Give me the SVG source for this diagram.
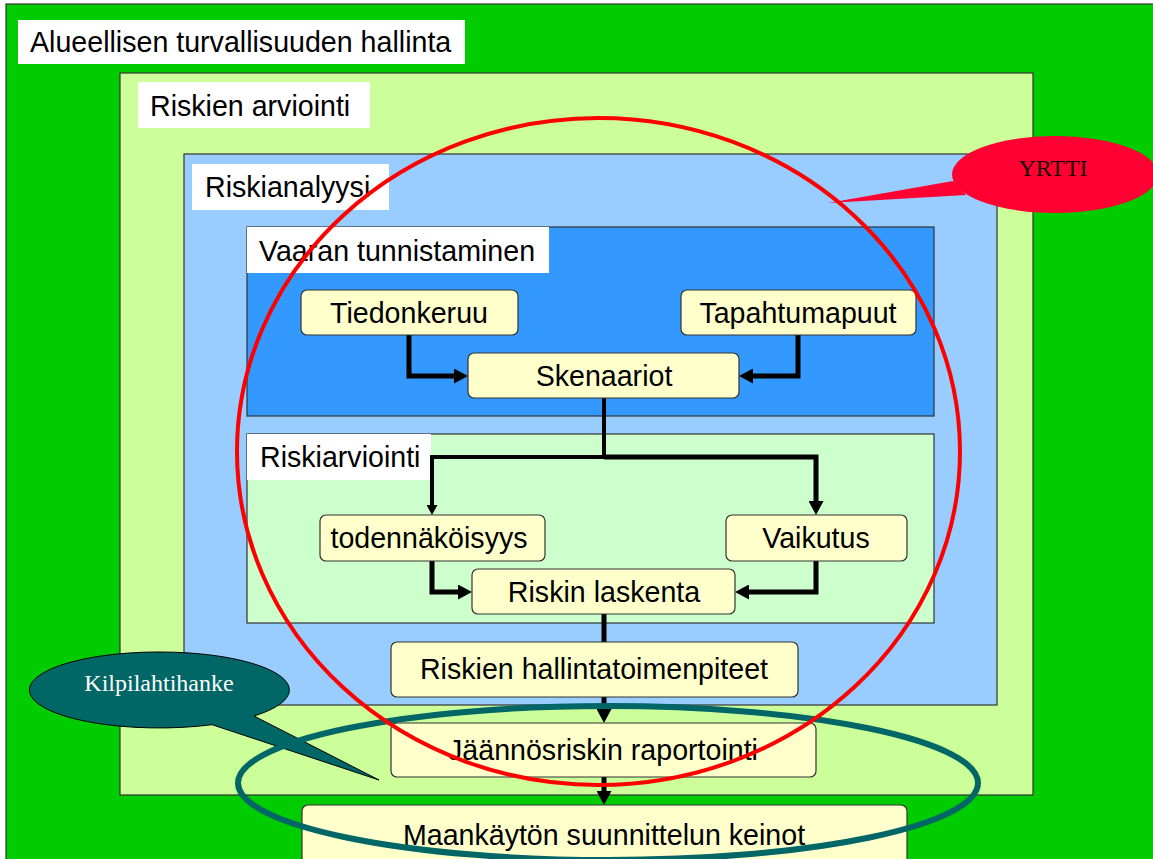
<svg xmlns="http://www.w3.org/2000/svg" width="1153" height="859" viewBox="0 0 1153 859">
<defs>
<style>
.frame{stroke:#333333;stroke-width:1.2}
.lbl{fill:#ffffff}
.t{font-family:"Liberation Sans",Arial,sans-serif;font-size:28.6px;fill:#000000}
.c{text-anchor:middle}
.box{fill:#ffffcc;stroke:#333333;stroke-width:1.2}
.con{fill:none;stroke:#000000;stroke-width:5;stroke-linejoin:miter}
.serif{font-family:"Liberation Serif","Times New Roman",serif;font-size:24px;text-anchor:middle}
</style>
<marker id="arr" markerUnits="userSpaceOnUse" markerWidth="14" markerHeight="15" refX="4" refY="7.5" orient="auto" viewBox="0 0 14 15">
<path d="M0,0 L14,7.5 L0,15 Z" fill="#000000"/>
</marker>
<marker id="arrs" markerUnits="userSpaceOnUse" markerWidth="10" markerHeight="11" refX="3" refY="5.5" orient="auto" viewBox="0 0 10 11">
<path d="M0,0 L10,5.5 L0,11 Z" fill="#000000"/>
</marker>
</defs>

<g id="alueellisen">
<rect x="6" y="4" width="1160" height="870" fill="#00cc00" class="frame"/>
<rect x="18" y="20" width="447" height="44" class="lbl"/>
<text x="30" y="52" class="t">Alueellisen turvallisuuden hallinta</text>
</g>

<g id="riskien-arviointi">
<rect x="120" y="73" width="913" height="722" fill="#ccff99" class="frame"/>
<rect x="138" y="82" width="232" height="46" class="lbl"/>
<text x="150" y="116" class="t">Riskien arviointi</text>
</g>

<g id="riskianalyysi">
<rect x="184" y="154" width="813" height="551" fill="#99ccff" class="frame"/>
<rect x="192" y="164" width="197" height="46" class="lbl"/>
<text x="205" y="197" class="t">Riskianalyysi</text>
</g>

<g id="vaaran-tunnistaminen">
<rect x="247" y="227" width="687" height="189" fill="#3399ff" class="frame"/>
<rect x="247" y="227" width="302" height="46" class="lbl"/>
<text x="259" y="261" class="t">Vaaran tunnistaminen</text>
</g>

<g id="riskiarviointi">
<rect x="247" y="434" width="687" height="189" fill="#ccffcc" class="frame"/>
<rect x="247" y="434" width="184" height="46" class="lbl"/>
<text x="260" y="467" class="t">Riskiarviointi</text>
</g>

<g id="connectors">
<path class="con" d="M409,335 V376 H458" marker-end="url(#arr)"/>
<path class="con" d="M798,335 V376 H749" marker-end="url(#arr)"/>
<path class="con" d="M604,398 V457 H432 V508" style="stroke-width:4" marker-end="url(#arrs)"/>
<path class="con" d="M604,457 H816 V505" marker-end="url(#arr)"/>
<path class="con" d="M432,561 V592 H462" marker-end="url(#arr)"/>
<path class="con" d="M816,561 V592 H745" marker-end="url(#arr)"/>
<path class="con" d="M604,614 V642"/>
<path class="con" d="M604,697 V713" marker-end="url(#arr)"/>
<path class="con" d="M604,777 V795" marker-end="url(#arr)"/>
</g>

<g id="tiedonkeruu">
<rect x="301" y="290" width="217" height="45" rx="6" class="box"/>
<text x="409" y="323" class="t c">Tiedonkeruu</text>
</g>
<g id="tapahtumapuut">
<rect x="681" y="290" width="235" height="45" rx="6" class="box"/>
<text x="798" y="323" class="t c">Tapahtumapuut</text>
</g>
<g id="skenaariot">
<rect x="468" y="353" width="271" height="45" rx="6" class="box"/>
<text x="604" y="386" class="t c">Skenaariot</text>
</g>
<g id="todennakoisyys">
<rect x="320" y="515" width="225" height="46" rx="6" class="box"/>
<text x="429" y="548" class="t c">todennäköisyys</text>
</g>
<g id="vaikutus">
<rect x="726" y="515" width="181" height="46" rx="6" class="box"/>
<text x="816" y="548" class="t c">Vaikutus</text>
</g>
<g id="riskin-laskenta">
<rect x="472" y="569" width="263" height="45" rx="6" class="box"/>
<text x="604" y="602" class="t c">Riskin laskenta</text>
</g>
<g id="riskien-hallintatoimenpiteet">
<rect x="391" y="642" width="407" height="55" rx="6" class="box"/>
<text x="594" y="679" class="t c">Riskien hallintatoimenpiteet</text>
</g>
<g id="jaannosriskin-raportointi">
<rect x="391" y="723" width="425" height="54" rx="6" class="box"/>
<text x="603" y="760" class="t c">Jäännösriskin raportointi</text>
</g>
<g id="maankayton-suunnittelun-keinot">
<rect x="302" y="805" width="605" height="80" rx="6" class="box"/>
<text x="604" y="845" class="t c">Maankäytön suunnittelun keinot</text>
</g>

<g id="yrtti">
<path d="M953,181 L828,203 L966,195 Z" fill="#ff0033"/>
<ellipse cx="1055" cy="174.5" rx="103" ry="38.5" fill="#ff0033"/>
<text x="1053" y="176" class="serif" fill="#1a0000">YRTTI</text>
</g>

<g id="kilpilahtihanke">
<path d="M254,716 L379,780 L212,724.7 A130,38 0 1 1 254,716 Z" fill="#006666" stroke="#000000" stroke-width="1"/>
<text x="159" y="691" class="serif" fill="#ffffff">Kilpilahtihanke</text>
</g>

<g id="kilpilahti-ellipse">
<ellipse cx="608" cy="783" rx="370" ry="77" fill="none" stroke="#006666" stroke-width="6"/>
</g>

<g id="yrtti-ellipse">
<ellipse cx="598.5" cy="451.5" rx="361.5" ry="333.5" fill="none" stroke="#ff0000" stroke-width="4"/>
</g>
</svg>
